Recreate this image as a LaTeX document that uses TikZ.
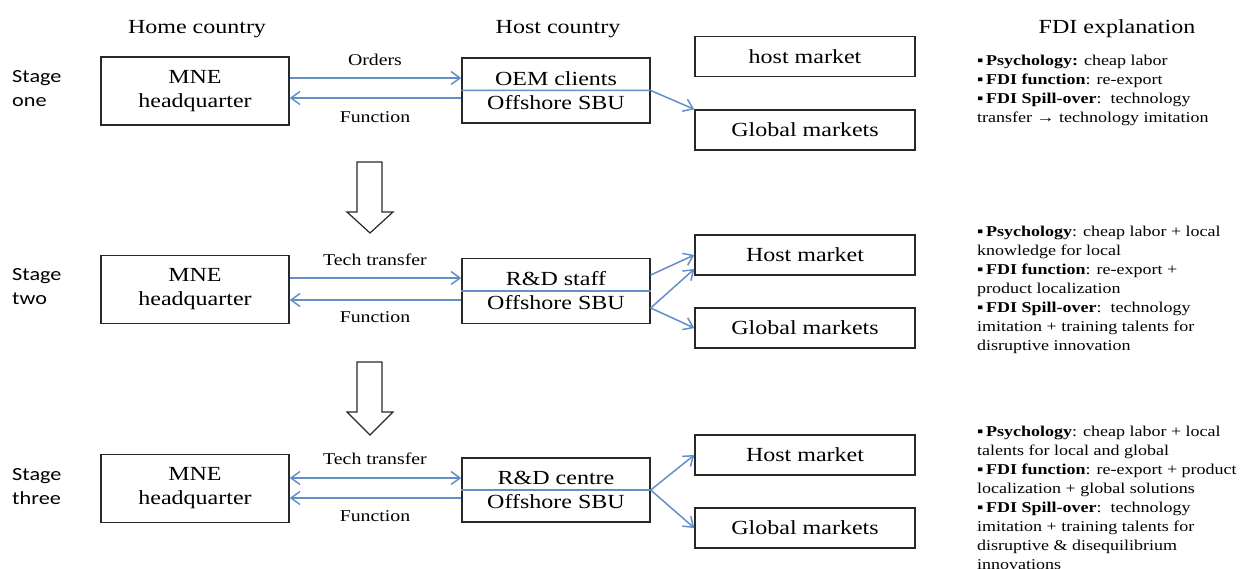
\documentclass[tikz,border=0pt]{standalone}
\usepackage{fontspec}
\setmainfont{Liberation Serif}[FakeStretch=1.2]
\newfontfamily\stagefont{Carlito}[FakeStretch=1.2]
\usetikzlibrary{arrows.meta}
\definecolor{conn}{RGB}{98,142,202}
\definecolor{edge}{RGB}{40,40,40}
\tikzset{
  box/.style={draw=edge, line width=1.4pt, inner sep=0pt, align=center,
    font=\fontsize{20}{24}\selectfont},
  hqbox/.style={box, minimum width=188pt, minimum height=68pt},
  hostbox/.style={box, minimum width=188pt, minimum height=65pt},
  mktbox/.style={box, minimum width=220pt, minimum height=40pt},
  link/.style={draw=conn, line width=1.5pt,
    -{Straight Barb[length=9pt,width=13pt,line width=1.5pt]}},
  twoway/.style={draw=conn, line width=1.5pt,
    {Straight Barb[length=9pt,width=13pt,line width=1.5pt]}-{Straight Barb[length=9pt,width=13pt,line width=1.5pt]}},
  plain/.style={draw=conn, line width=1.5pt},
  lbl/.style={inner sep=0pt, font=\fontsize{16.5}{19}\selectfont},
  hdr/.style={inner sep=0pt, font=\fontsize{20}{24}\selectfont},
  stg/.style={inner sep=0pt, align=left, font=\stagefont\fontsize{18.5}{24}\selectfont},
  expl/.style={inner sep=0pt, align=left, font=\fontsize{15}{19}\selectfont},
  hollow/.style={draw=edge, line width=1.2pt, fill=white},
}
\newcommand{\bul}{▪\,}
\begin{document}
\begin{tikzpicture}[x=1pt,y=-1pt]
\useasboundingbox (0,0) rectangle (1248,569);

% headers
\node[hdr, anchor=base] (h1) at (197,34) {Home country};
\node[hdr, anchor=base] (h2) at (558,34) {Host country};
\node[hdr, anchor=base] (h3) at (1117,34) {FDI explanation};

% stage labels (base = last line)
\node[stg, anchor=base west] (s1) at (12,107) {Stage\\one};
\node[stg, anchor=base west] (s2) at (12,305) {Stage\\two};
\node[stg, anchor=base west] (s3) at (12,504) {Stage\\three};

% ---------- stage one ----------
\node[hqbox] (hq1) at (195,91) {MNE\\headquarter};
\node[hostbox] (host1) at (556,90.5) {OEM clients\\Offshore SBU};
\node[mktbox] (hm1) at (805,56.5) {host market};
\node[mktbox] (gm1) at (805,130) {Global markets};
\draw[link] ([yshift=13pt]hq1.east) -- ([yshift=12.5pt]host1.west);
\draw[link] ([yshift=-7.5pt]host1.west) -- ([yshift=-7pt]hq1.east);
\node[lbl] (o1) at (375,60) {Orders};
\node[lbl] (f1) at (375,117) {Function};
\draw[link] (host1.west) -- (host1.east) -- (gm1.north west);

% big arrow 1
\draw[hollow] (357,162) -- (382,162) -- (382,212) -- (393,212) -- (370,233)
  -- (347,212) -- (357,212) -- cycle;

% ---------- stage two ----------
\node[hqbox] (hq2) at (195,289.5) {MNE\\headquarter};
\node[hostbox] (host2) at (556,291) {R\&D staff\\Offshore SBU};
\node[mktbox] (hm2) at (805,255) {Host market};
\node[mktbox] (gm2) at (805,328) {Global markets};
\draw[link] ([yshift=11.5pt]hq2.east) -- ([yshift=13pt]host2.west);
\draw[link] ([yshift=-9pt]host2.west) -- ([yshift=-10.5pt]hq2.east);
\node[lbl] (t2) at (375,260) {Tech transfer};
\node[lbl] (f2) at (375,317) {Function};
\draw[plain] (host2.west) -- (host2.east);
\draw[link] ([yshift=16pt]host2.east) -- (hm2.west);
\draw[link] ([yshift=-17pt]host2.east) -- ([yshift=-14pt]hm2.west);
\draw[link] ([yshift=-17pt]host2.east) -- (gm2.west);

% big arrow 2
\draw[hollow] (357,362) -- (382,362) -- (382,412) -- (393,412) -- (370,435)
  -- (347,412) -- (357,412) -- cycle;

% ---------- stage three ----------
\node[hqbox] (hq3) at (195,488.5) {MNE\\headquarter};
\node[hostbox, minimum height=64pt] (host3) at (556,490) {R\&D centre\\Offshore SBU};
\node[mktbox] (hm3) at (805,455) {Host market};
\node[mktbox] (gm3) at (805,528) {Global markets};
\draw[twoway] ([yshift=10.5pt]hq3.east) -- ([yshift=12pt]host3.west);
\draw[link] ([yshift=-8pt]host3.west) -- ([yshift=-9.5pt]hq3.east);
\node[lbl] (t3) at (375,459) {Tech transfer};
\node[lbl] (f3) at (375,516) {Function};
\draw[plain] (host3.west) -- (host3.east);
\draw[link] (host3.east) -- (hm3.west);
\draw[link] (host3.east) -- (gm3.west);

% ---------- explanations (base = last line) ----------
\node[expl, anchor=base west] (e1) at (977,123) {\bul\textbf{Psychology:} cheap labor\\
\bul\textbf{FDI function}: re-export\\
\bul\textbf{FDI Spill-over}:\ \ technology\\
transfer → technology imitation};

\node[expl, anchor=base west] (e2) at (977,351) {\bul\textbf{Psychology}: cheap labor + local\\
knowledge for local\\
\bul\textbf{FDI function}: re-export +\\
product localization\\
\bul\textbf{FDI Spill-over}:\ \ technology\\
imitation + training talents for\\
disruptive innovation};

\node[expl, anchor=base west] (e3) at (977,569) {\bul\textbf{Psychology}: cheap labor + local\\
talents for local and global\\
\bul\textbf{FDI function}: re-export + product\\
localization + global solutions\\
\bul\textbf{FDI Spill-over}:\ \ technology\\
imitation + training talents for\\
disruptive \& disequilibrium\\
innovations};
\end{tikzpicture}
\end{document}
